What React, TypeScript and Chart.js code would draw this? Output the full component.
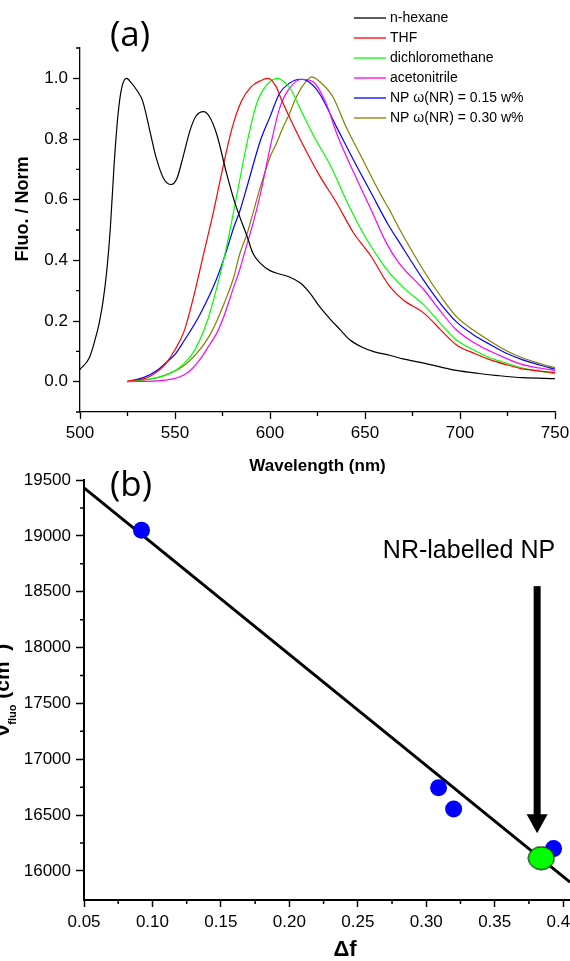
import React, { useEffect, useRef } from 'react';
import { Chart, registerables } from 'chart.js';

Chart.register(...registerables);

const FONT = '"Liberation Sans", Arial, sans-serif';

// ---------- (a) normalised fluorescence spectra ----------
const hexaneNm = [500, 505, 508, 510, 512, 514, 516, 518, 520, 522, 524.5, 527, 530, 533, 537, 540, 544, 548, 551, 554, 558, 561, 565, 568, 572, 577, 581, 584, 588, 591, 595, 600, 605, 610, 616, 621, 626, 632, 637, 642, 648, 655, 663, 670, 681, 690, 698, 710, 720, 733, 750];
const hexaneVal = [0.04, 0.08, 0.14, 0.19, 0.26, 0.36, 0.51, 0.72, 0.88, 0.97, 1.0, 0.985, 0.96, 0.925, 0.82, 0.74, 0.67, 0.65, 0.67, 0.735, 0.83, 0.875, 0.89, 0.875, 0.815, 0.69, 0.6, 0.545, 0.478, 0.423, 0.39, 0.366, 0.355, 0.346, 0.325, 0.292, 0.248, 0.204, 0.171, 0.138, 0.115, 0.098, 0.087, 0.075, 0.061, 0.048, 0.037, 0.027, 0.02, 0.013, 0.01];

const thfNm = [525, 530, 535, 540, 545, 550, 555, 560, 565, 570, 575, 580, 585, 590, 595, 599, 603, 606, 610, 617, 626, 635, 644, 653, 663, 670, 681, 690, 698, 708, 716, 725, 733, 742, 750];
const thfVal = [0.003, 0.006, 0.012, 0.03, 0.058, 0.105, 0.17, 0.285, 0.42, 0.553, 0.7, 0.835, 0.925, 0.972, 0.992, 1.0, 0.975, 0.93, 0.875, 0.785, 0.68, 0.59, 0.49, 0.415, 0.314, 0.27, 0.226, 0.17, 0.122, 0.092, 0.072, 0.055, 0.042, 0.035, 0.03];

const dcmNm = [525, 535, 542, 551, 555, 560, 567, 572, 577, 583, 588, 593, 598, 604, 608, 611, 616, 623, 632, 640, 649, 658, 663, 672, 681, 690, 698, 707, 716, 725, 733, 742, 750];
const dcmVal = [0.0, 0.008, 0.015, 0.04, 0.062, 0.1, 0.2, 0.31, 0.44, 0.63, 0.79, 0.917, 0.976, 1.0, 0.985, 0.963, 0.898, 0.81, 0.71, 0.6, 0.49, 0.4, 0.358, 0.3, 0.253, 0.19, 0.138, 0.105, 0.078, 0.06, 0.045, 0.035, 0.026];

const acnNm = [525, 545, 556, 563, 568, 572, 576, 581, 584, 588, 591, 595, 600, 605, 610, 617, 623, 630, 635, 644, 653, 661, 668, 681, 690, 698, 707, 716, 725, 733, 742, 750];
const acnVal = [0.0, 0.005, 0.027, 0.072, 0.12, 0.16, 0.22, 0.314, 0.368, 0.456, 0.52, 0.62, 0.77, 0.9, 0.965, 0.997, 0.987, 0.91, 0.82, 0.69, 0.57, 0.46, 0.39, 0.303, 0.23, 0.171, 0.13, 0.1, 0.075, 0.056, 0.045, 0.037];

const np15Nm = [525, 534, 540, 545, 550, 554, 563, 572, 577, 581, 584, 588, 595, 600, 605, 610, 616, 620, 626, 635, 644, 653, 662, 668, 681, 690, 698, 707, 716, 725, 733, 742, 750];
const np15Val = [0.0, 0.015, 0.035, 0.061, 0.09, 0.127, 0.22, 0.34, 0.43, 0.51, 0.56, 0.645, 0.796, 0.873, 0.95, 0.983, 0.997, 0.99, 0.95, 0.84, 0.73, 0.625, 0.52, 0.46, 0.333, 0.255, 0.198, 0.155, 0.122, 0.092, 0.072, 0.055, 0.041];

const np30Nm = [525, 540, 554, 563, 568, 572, 576, 581, 584, 588, 591, 595, 600, 603, 607, 610, 614, 619, 622, 626, 633, 640, 649, 658, 663, 668, 681, 690, 698, 707, 716, 725, 733, 742, 750];
const np30Val = [0.0, 0.012, 0.05, 0.105, 0.15, 0.2, 0.26, 0.346, 0.42, 0.489, 0.555, 0.643, 0.74, 0.78, 0.84, 0.88, 0.94, 0.99, 1.005, 0.99, 0.94, 0.84, 0.73, 0.62, 0.565, 0.505, 0.365, 0.28, 0.215, 0.17, 0.133, 0.1, 0.078, 0.06, 0.046];

const seriesNames = ['n-hexane', 'THF', 'dichloromethane', 'acetonitrile', 'NP \u03C9(NR) = 0.15 w%', 'NP \u03C9(NR) = 0.30 w%'];
const seriesNm = [hexaneNm, thfNm, dcmNm, acnNm, np15Nm, np30Nm];
const seriesVal = [hexaneVal, thfVal, dcmVal, acnVal, np15Val, np30Val];
const seriesColors = ['#000000', '#ff0000', '#00ff00', '#ff00ff', '#0000ff', '#808000'];

const xTicksA = [500, 550, 600, 650, 700, 750];
const xMinorA = [525, 575, 625, 675, 725];
const yTicksA = [0, 0.2, 0.4, 0.6, 0.8, 1.0];
const yMinorA = [-0.1, 0.1, 0.3, 0.5, 0.7, 0.9, 1.1];

// ---------- (b) Lippert-Mataga plot ----------
const solventDeltaF = [0.092, 0.309, 0.32, 0.393];
const solventNu = [19050, 16745, 16555, 16200];
const npDeltaF = [0.384];
const npNu = [16115];
const fitDeltaF = [0.05, 0.405];
const fitNu = [19430, 15900];
const arrowDeltaF = 0.381;
const arrowNuFrom = 18550;
const arrowNuTo = 16337;

const xTicksB = [0.05, 0.1, 0.15, 0.2, 0.25, 0.3, 0.35, 0.4];
const xMinorB = [0.075, 0.125, 0.175, 0.225, 0.275, 0.325, 0.375];
const yTicksB = [16000, 16500, 17000, 17500, 18000, 18500, 19000, 19500];
const yMinorB = [16250, 16750, 17250, 17750, 18250, 18750, 19250];

function minorTicks(id: string, xs: number[], ys: number[], len: number, width: number) {
  return {
    id,
    afterDraw(chart: any) {
      const ctx = chart.ctx;
      const sx = chart.scales.x;
      const sy = chart.scales.y;
      ctx.save();
      ctx.strokeStyle = '#000';
      ctx.lineWidth = width;
      ctx.beginPath();
      for (const v of xs) {
        const px = sx.getPixelForValue(v);
        ctx.moveTo(px, sx.top);
        ctx.lineTo(px, sx.top + len);
      }
      for (const v of ys) {
        const py = sy.getPixelForValue(v);
        ctx.moveTo(sy.right, py);
        ctx.lineTo(sy.right - len, py);
      }
      ctx.stroke();
      ctx.restore();
    },
  };
}

const decorA = {
  id: 'decorA',
  afterDraw(chart: any) {
    const ctx = chart.ctx;
    const ca = chart.chartArea;
    ctx.save();
    ctx.fillStyle = '#000';
    ctx.font = '35px "Open Sans", sans-serif';
    ctx.textAlign = 'center';
    ctx.textBaseline = 'middle';
    ctx.fillText('(a)', 130, 36);

    ctx.font = `14px ${FONT}`;
    ctx.textAlign = 'left';
    seriesNames.forEach((n, i) => {
      const y = 18 + i * 20;
      ctx.strokeStyle = seriesColors[i];
      ctx.lineWidth = 1.3;
      ctx.beginPath();
      ctx.moveTo(354, y);
      ctx.lineTo(386, y);
      ctx.stroke();
      ctx.fillText(n, 390, y);
    });

    ctx.textBaseline = 'alphabetic';
    ctx.textAlign = 'center';
    ctx.font = `bold 17px ${FONT}`;
    ctx.fillText('Wavelength (nm)', (ca.left + ca.right) / 2, 471);

    ctx.save();
    ctx.translate(28, 209);
    ctx.rotate(-Math.PI / 2);
    ctx.font = `bold 18px ${FONT}`;
    ctx.fillText('Fluo. / Norm', 0, 0);
    ctx.restore();
    ctx.restore();
  },
};

const decorB = {
  id: 'decorB',
  afterDraw(chart: any) {
    const ctx = chart.ctx;
    const sx = chart.scales.x;
    const sy = chart.scales.y;
    ctx.save();
    ctx.fillStyle = '#000';
    ctx.font = '35px "Open Sans", sans-serif';
    ctx.textAlign = 'center';
    ctx.textBaseline = 'middle';
    ctx.fillText('(b)', 131, 46);

    ctx.font = `25px ${FONT}`;
    ctx.fillText('NR-labelled NP', 469, 111);

    // arrow
    const ax = sx.getPixelForValue(arrowDeltaF);
    const y0 = sy.getPixelForValue(arrowNuFrom);
    const y1 = sy.getPixelForValue(arrowNuTo);
    const head = 19;
    ctx.fillRect(ax - 3.5, y0, 7, y1 - y0 - head + 1);
    ctx.beginPath();
    ctx.moveTo(ax - 10.5, y1 - head);
    ctx.lineTo(ax + 10.5, y1 - head);
    ctx.lineTo(ax, y1);
    ctx.closePath();
    ctx.fill();

    // x title
    ctx.textBaseline = 'alphabetic';
    ctx.font = `bold 22px ${FONT}`;
    ctx.fillText('\u0394f', 345, 516);

    // y title (partly outside the picture, as in the original)
    const parts = [
      { t: '\u03BD', size: 21, dy: 0 },
      { t: 'fluo', size: 11, dy: 7 },
      { t: ' (cm', size: 21, dy: 0 },
      { t: '-1', size: 12, dy: -9 },
      { t: ')', size: 21, dy: 0 },
    ];
    let total = 0;
    const widths = parts.map((p) => {
      ctx.font = `bold ${p.size}px ${FONT}`;
      const w = ctx.measureText(p.t).width;
      total += w;
      return w;
    });
    ctx.save();
    ctx.translate(9, 250);
    ctx.rotate(-Math.PI / 2);
    ctx.textAlign = 'left';
    let xx = -total / 2;
    parts.forEach((p, i) => {
      ctx.font = `bold ${p.size}px ${FONT}`;
      ctx.fillText(p.t, xx, p.dy);
      xx += widths[i];
    });
    ctx.restore();
    ctx.restore();
  },
};

export default function App() {
  const refA = useRef<HTMLCanvasElement>(null);
  const refB = useRef<HTMLCanvasElement>(null);

  useEffect(() => {
    const tickFont = { family: FONT, size: 17 };

    const chartA = new Chart(refA.current as HTMLCanvasElement, {
      type: 'line',
      data: {
        datasets: seriesNames.map((name, i) => ({
          label: name,
          data: seriesNm[i].map((x, j) => ({ x, y: seriesVal[i][j] })),
          borderColor: seriesColors[i],
          backgroundColor: seriesColors[i],
          borderWidth: 1.2,
          pointRadius: 0,
          fill: false,
          cubicInterpolationMode: 'monotone',
        })),
      },
      options: {
        responsive: false,
        animation: false,
        layout: { autoPadding: false, padding: { top: 48, right: 15, left: 0, bottom: 0 } },
        plugins: { legend: { display: false }, tooltip: { enabled: false } },
        scales: {
          x: {
            type: 'linear',
            min: 500,
            max: 750,
            afterBuildTicks: (s: any) => {
              s.ticks = xTicksA.map((v) => ({ value: v }));
            },
            afterFit: (s: any) => {
              s.height = 68;
              s.paddingLeft = 0;
              s.paddingRight = 0;
            },
            ticks: { font: tickFont, color: '#000', padding: 4, maxRotation: 0, callback: (v: any) => String(v) },
            grid: { drawOnChartArea: false, drawTicks: true, tickLength: 7, tickColor: '#000', tickWidth: 1.3 },
            border: { display: true, color: '#000', width: 1.3 },
          },
          y: {
            type: 'linear',
            min: -0.1,
            max: 1.1,
            afterBuildTicks: (s: any) => {
              s.ticks = yTicksA.map((v) => ({ value: v }));
            },
            afterFit: (s: any) => {
              s.width = 80;
            },
            ticks: { font: tickFont, color: '#000', padding: 5, callback: (v: any) => Number(v).toFixed(1) },
            grid: { drawOnChartArea: false, drawTicks: true, tickLength: 7, tickColor: '#000', tickWidth: 1.3 },
            border: { display: true, color: '#000', width: 1.3 },
          },
        },
      },
      plugins: [minorTicks('minorA', xMinorA, yMinorA, 4, 1.3), decorA],
    } as any);

    const greenDot = document.createElement('canvas');
    greenDot.width = 28;
    greenDot.height = 25;
    const g = greenDot.getContext('2d') as CanvasRenderingContext2D;
    g.beginPath();
    g.ellipse(14, 12.5, 13, 11.5, 0, 0, Math.PI * 2);
    g.fillStyle = '#00ff00';
    g.fill();
    g.lineWidth = 1;
    g.strokeStyle = '#000';
    g.stroke();

    const chartB = new Chart(refB.current as HTMLCanvasElement, {
      type: 'scatter',
      data: {
        datasets: [
          {
            label: 'NR-labelled NP',
            data: npDeltaF.map((x, i) => ({ x, y: npNu[i] })),
            pointStyle: greenDot,
            pointRadius: 13,
          },
          {
            label: 'solvents',
            data: solventDeltaF.map((x, i) => ({ x, y: solventNu[i] })),
            pointStyle: 'circle',
            pointRadius: 8.5,
            backgroundColor: '#0000ff',
            borderColor: '#0000ff',
            borderWidth: 0,
          },
          {
            label: 'fit',
            data: fitDeltaF.map((x, i) => ({ x, y: fitNu[i] })),
            showLine: true,
            borderColor: '#000',
            borderWidth: 3,
            pointRadius: 0,
            fill: false,
          },
        ],
      },
      options: {
        responsive: false,
        animation: false,
        layout: { autoPadding: false, padding: { top: 40, right: 0, left: 0, bottom: 0 } },
        plugins: { legend: { display: false }, tooltip: { enabled: false } },
        scales: {
          x: {
            type: 'linear',
            min: 0.05,
            max: 0.405,
            afterBuildTicks: (s: any) => {
              s.ticks = xTicksB.map((v) => ({ value: v }));
            },
            afterFit: (s: any) => {
              s.height = 61;
              s.paddingLeft = 0;
              s.paddingRight = 0;
            },
            ticks: { font: tickFont, color: '#000', padding: 5, maxRotation: 0, callback: (v: any) => Number(v).toFixed(2) },
            grid: { drawOnChartArea: false, drawTicks: true, tickLength: 7, tickColor: '#000', tickWidth: 1.5 },
            border: { display: true, color: '#000', width: 2 },
          },
          y: {
            type: 'linear',
            min: 15740,
            max: 19500,
            afterBuildTicks: (s: any) => {
              s.ticks = yTicksB.map((v) => ({ value: v }));
            },
            afterFit: (s: any) => {
              s.width = 84;
            },
            ticks: { font: tickFont, color: '#000', padding: 5, callback: (v: any) => String(v) },
            grid: { drawOnChartArea: false, drawTicks: true, tickLength: 8, tickColor: '#000', tickWidth: 1.5 },
            border: { display: true, color: '#000', width: 2 },
          },
        },
      },
      plugins: [minorTicks('minorB', xMinorB, yMinorB, 4, 1.5), decorB],
    } as any);

    return () => {
      chartA.destroy();
      chartB.destroy();
    };
  }, []);

  return (
    <div style={{ position: 'absolute', left: 0, top: 0, width: 570, height: 961, background: '#fff', overflow: 'hidden' }}>
      <canvas ref={refA} width={570} height={480} style={{ position: 'absolute', left: 0, top: 0 }} />
      <canvas ref={refB} width={570} height={521} style={{ position: 'absolute', left: 0, top: 440 }} />
    </div>
  );
}
